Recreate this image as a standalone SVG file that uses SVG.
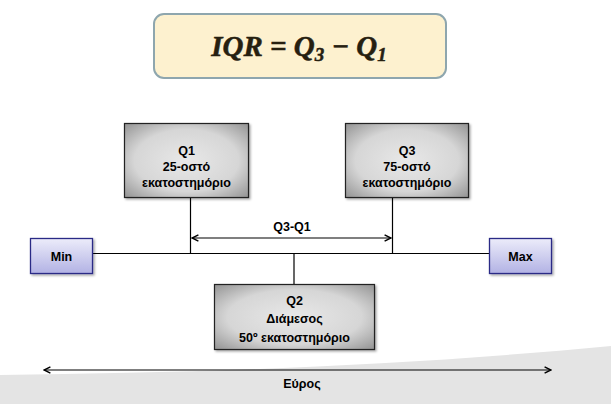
<svg xmlns="http://www.w3.org/2000/svg" width="611" height="404" viewBox="0 0 611 404">
<defs>
  <radialGradient id="gq" cx="50%" cy="50%" r="70%">
    <stop offset="0" stop-color="#e8e8e8"/>
    <stop offset="0.6" stop-color="#d6d6d6"/>
    <stop offset="1" stop-color="#949494"/>
  </radialGradient>
  <linearGradient id="gm" x1="0" y1="0" x2="0" y2="1">
    <stop offset="0" stop-color="#ececfa"/>
    <stop offset="1" stop-color="#b2b2e4"/>
  </linearGradient>
  <marker id="ah" viewBox="0 0 10 10" refX="9" refY="5" markerWidth="8" markerHeight="8" orient="auto-start-reverse" markerUnits="userSpaceOnUse">
    <path d="M1,1 L9,5 L1,9" fill="none" stroke="#000" stroke-width="1.8"/>
  </marker>
  <filter id="sh" x="-10%" y="-10%" width="130%" height="130%">
    <feDropShadow dx="1.5" dy="1.5" stdDeviation="1.2" flood-color="#000" flood-opacity="0.35"/>
  </filter>
</defs>
<style>
  .q { fill: url(#gq); stroke: #222; stroke-width: 1.2; filter: url(#sh); }
  .m { fill: url(#gm); stroke: #2c2c86; stroke-width: 1.3; filter: url(#sh); }
  .t { font-family: "Liberation Sans", Arial, sans-serif; font-weight: bold; font-size: 12.5px; fill: #000; text-anchor: middle; }
  .ln { stroke: #000; stroke-width: 1.2; fill: none; }
  .f { font-family: "Liberation Serif", "Times New Roman", serif; font-weight: bold; font-style: italic; font-size: 29px; fill: #262010; text-anchor: middle; stroke: #262010; stroke-width: 0.5; }
</style>
<rect width="611" height="404" fill="#fff"/>
<path d="M0,375 C200,373 400,366 611,346 L611,404 L0,404 Z" fill="#e4e4e4"/>

<g id="formula">
  <rect x="154" y="14" width="292" height="64" rx="10" fill="#fdf1cf" stroke="#8ea6ae" stroke-width="2"/>
  <text class="f" x="299" y="56">IQR = Q<tspan font-size="19" dy="5">3</tspan><tspan dy="-5"> − Q</tspan><tspan font-size="19" dy="5">1</tspan></text>
</g>

<g id="connectors">
  <line class="ln" x1="92" y1="253.5" x2="489" y2="253.5"/>
  <line class="ln" x1="190.5" y1="197" x2="190.5" y2="253.5"/>
  <line class="ln" x1="392.5" y1="197" x2="392.5" y2="253.5"/>
  <line class="ln" x1="294" y1="253.5" x2="294" y2="284"/>
  <line class="ln" x1="192" y1="238" x2="391" y2="238" stroke-width="1.6" marker-start="url(#ah)" marker-end="url(#ah)"/>
  <text class="t" x="292" y="231">Q3-Q1</text>
  <line class="ln" x1="44" y1="370" x2="551" y2="370" stroke-width="1.6" marker-start="url(#ah)" marker-end="url(#ah)"/>
  <text class="t" x="302" y="388">Εύρος</text>
</g>

<g id="q1">
  <rect class="q" x="124.5" y="123.5" width="124" height="74"/>
  <text class="t" x="186.5" y="155">Q1</text>
  <text class="t" x="186.5" y="171">25-οστό</text>
  <text class="t" x="186.5" y="187">εκατοστημόριο</text>
</g>

<g id="q3">
  <rect class="q" x="345.5" y="123.5" width="123" height="74"/>
  <text class="t" x="407" y="155">Q3</text>
  <text class="t" x="407" y="171">75-οστό</text>
  <text class="t" x="407" y="187">εκατοστημόριο</text>
</g>

<g id="min">
  <rect class="m" x="30.5" y="238.5" width="62" height="35"/>
  <text class="t" x="61.5" y="261">Min</text>
</g>

<g id="max">
  <rect class="m" x="489.5" y="238.5" width="62" height="35"/>
  <text class="t" x="520.5" y="261">Max</text>
</g>

<g id="q2">
  <rect class="q" x="214.5" y="284.5" width="160" height="65"/>
  <text class="t" x="294.5" y="305">Q2</text>
  <text class="t" x="294.5" y="323">Διάμεσος</text>
  <text class="t" x="294.5" y="342">50º εκατοστημόριο</text>
</g>
</svg>
